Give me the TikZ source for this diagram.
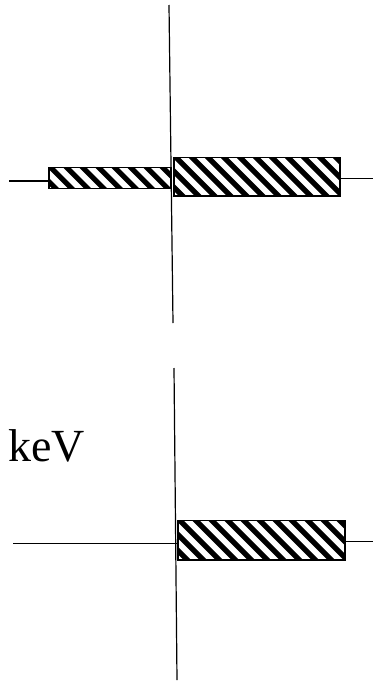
\documentclass[tikz,border=0pt]{standalone}
\usepackage{fontspec}
\setmainfont{Liberation Serif}
\usetikzlibrary{calc}
\tikzset{
  % hatched bar: thick black diagonal stripes, clipped to the box
  hatchbar/.style={draw, line width=1.4pt, rectangle, inner sep=0pt,
    path picture={
      \foreach \i in {-80,-64,...,240}
        \draw[line width=5.2pt]
          ($(path picture bounding box.north west)+(\i pt,2pt)$) -- ++(60pt,-60pt);
    }},
  axis/.style={line width=1.2pt},
  lead/.style={line width=1.4pt},
}
\begin{document}
\begin{tikzpicture}[x=1pt, y=-1pt]
\useasboundingbox (0,0) rectangle (374,688);

% ---- upper panel ----
\coordinate (ta) at (169,5);
\coordinate (tb) at (173,323);
\coordinate (tl) at (9,181);
\coordinate (tr) at (373,178.3);
\node[hatchbar, minimum width=122pt, minimum height=20.6pt] (lbar) at (110,178) {};
\node[hatchbar, minimum width=166pt, minimum height=38.7pt] (rbar) at (257,176.7) {};
\draw[axis] (ta) -- (tb);
\draw[lead] (tl) -- (tl -| lbar.west);
\draw[lead] (tr -| rbar.east) -- (tr);

% ---- lower panel ----
\coordinate (ba) at (174,368);
\coordinate (bb) at (177,680);
\coordinate (bl) at (13,543.3);
\coordinate (br) at (373,541.7);
\node[hatchbar, minimum width=167pt, minimum height=39.3pt] (bar) at (261.5,540.3) {};
\draw[axis] (ba) -- (bb);
\draw[lead] (bl) -- (bl -| bar.west);
\draw[lead] (br -| bar.east) -- (br);

\node[anchor=base west, inner sep=0pt, font=\fontsize{46}{50}\selectfont] (unit) at (8,461) {keV};
\end{tikzpicture}
\end{document}
